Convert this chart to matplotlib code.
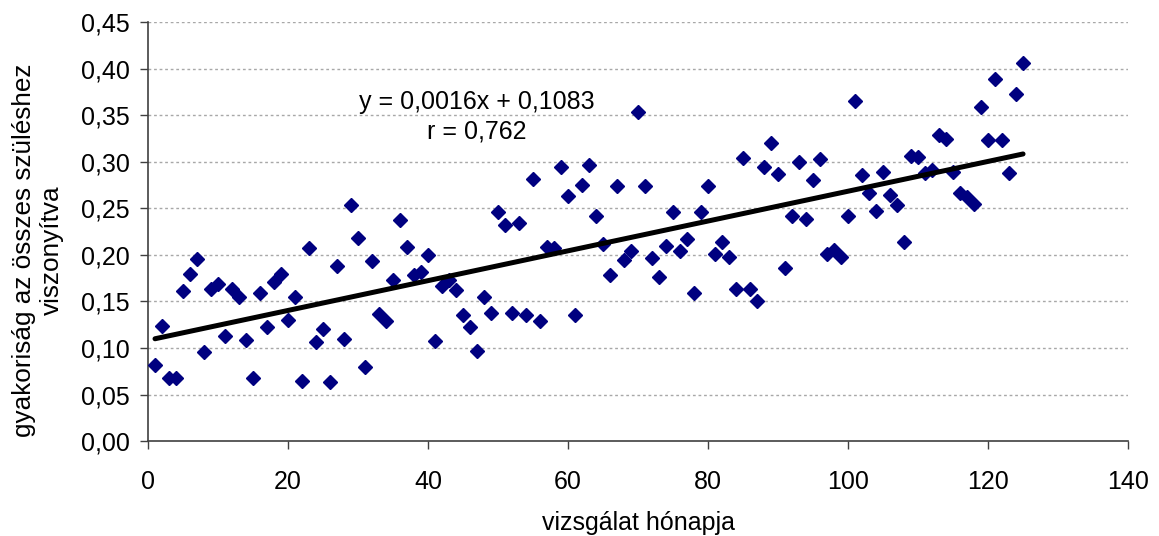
import matplotlib
matplotlib.use('Agg')
import matplotlib.pyplot as plt
import numpy as np

plt.rcParams['font.family'] = ['Liberation Sans', 'DejaVu Sans']

# monthly relative frequency (month index 1..125)
months = list(range(1, 126))
freq = [
    0.082, 0.124, 0.068, 0.068, 0.161, 0.179, 0.195, 0.096, 0.163, 0.169,
    0.113, 0.163, 0.155, 0.109, 0.068, 0.159, 0.123, 0.171, 0.179, 0.130,
    0.155, 0.065, 0.207, 0.106, 0.120, 0.064, 0.188, 0.110, 0.254, 0.218,
    0.080, 0.193, 0.136, 0.129, 0.173, 0.237, 0.208, 0.178, 0.182, 0.200,
    0.108, 0.167, 0.173, 0.162, 0.135, 0.122, 0.097, 0.155, 0.138, 0.246,
    0.232, 0.138, 0.234, 0.135, 0.281, 0.129, 0.208, 0.207, 0.294, 0.263,
    0.135, 0.275, 0.296, 0.242, 0.212, 0.178, 0.274, 0.194, 0.204, 0.353,
    0.274, 0.197, 0.176, 0.210, 0.246, 0.204, 0.217, 0.159, 0.246, 0.274,
    0.201, 0.214, 0.198, 0.163, 0.304, 0.163, 0.150, 0.294, 0.320, 0.287,
    0.186, 0.242, 0.300, 0.239, 0.280, 0.303, 0.201, 0.205, 0.198, 0.242,
    0.365, 0.286, 0.266, 0.247, 0.289, 0.264, 0.254, 0.214, 0.306, 0.305,
    0.288, 0.291, 0.329, 0.324, 0.289, 0.266, 0.262, 0.255, 0.359, 0.323,
    0.389, 0.323, 0.288, 0.373, 0.406,
]

# linear fit parameters as reported on the chart
slope = 0.0016
intercept = 0.1083
r_value = 0.762

x_ticks = [0, 20, 40, 60, 80, 100, 120, 140]
y_ticks = [0.00, 0.05, 0.10, 0.15, 0.20, 0.25, 0.30, 0.35, 0.40, 0.45]


def comma(v, digits):
    return f'{v:.{digits}f}'.replace('.', ',')


fig = plt.figure(figsize=(11.59, 5.36), dpi=100)
ax = fig.add_axes([0.1277, 0.177, 0.8456, 0.782])

for yv in y_ticks[1:]:
    ax.axhline(yv, color='#a8a8a8', linewidth=1.0, linestyle=(0, (2, 2)), zorder=1)

ax.plot(months, freq, linestyle='none', marker='D', markersize=7,
        color='#000080', markeredgecolor='#000080', zorder=3)

fit_x = np.array([months[0], months[-1]])
ax.plot(fit_x, slope * fit_x + intercept, color='black', linewidth=3.6,
        solid_capstyle='round', zorder=4)

ax.text(47, 0.364, f'y = {comma(slope, 4)}x + {comma(intercept, 4)}',
        ha='center', va='center', fontsize=18)
ax.text(47, 0.332, f'r = {comma(r_value, 3)}', ha='center', va='center', fontsize=18)

ax.set_xlim(0, 140)
ax.set_ylim(0, 0.45)
ax.set_xticks(x_ticks)
ax.set_xticklabels([str(t) for t in x_ticks])
ax.set_yticks(y_ticks)
ax.set_yticklabels([comma(t, 2) for t in y_ticks])
ax.tick_params(axis='both', labelsize=18, direction='out', color='#404040',
               width=1.0, length=6)
ax.tick_params(axis='y', pad=7)
ax.tick_params(axis='x', pad=15)

for side in ('top', 'right'):
    ax.spines[side].set_visible(False)
for side in ('left', 'bottom'):
    ax.spines[side].set_color('#404040')
    ax.spines[side].set_linewidth(1.2)

ax.set_xlabel('vizsgálat hónapja', fontsize=18, labelpad=12)
ax.set_ylabel('gyakoriság az összes szüléshez\nviszonyítva', fontsize=18.8,
              linespacing=1.2)
ax.yaxis.set_label_coords(-0.086, 0.455)

fig.savefig('out.png', dpi=100)
